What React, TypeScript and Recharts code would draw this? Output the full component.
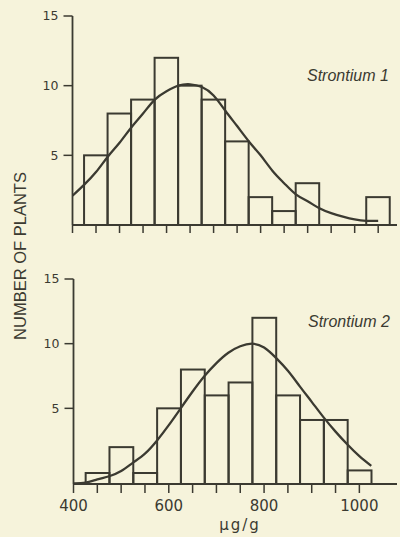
import React from "react";
import { ComposedChart, Bar, Line, XAxis, YAxis } from "recharts";

const INK = "#3b3a31";
const PAPER = "#f6f3db";

// Strontium 1 (upper panel)
const bins1 = [450, 500, 550, 600, 650, 700, 750, 800, 850, 900, 950, 1000, 1050];
const counts1 = [5, 8, 9, 12, 10, 9, 6, 2, 1, 3, 0, 0, 2];
const curveX1 = [400, 425, 450, 475, 500, 525, 550, 575, 600, 625, 650, 675, 700, 725, 750, 775, 800, 825, 850, 875, 900, 925, 950, 975, 1000, 1025, 1050];
const curve1 = [2.1, 2.9, 3.8, 4.9, 5.9, 7.0, 8.0, 9.0, 9.6, 10.0, 10.1, 9.9, 9.3, 8.2, 7.1, 6.0, 5.0, 3.9, 3.0, 2.2, 1.7, 1.2, 0.85, 0.6, 0.4, 0.3, 0.3];

// Strontium 2 (lower panel), read against the printed tick labels
const bins2 = [450, 500, 550, 600, 650, 700, 750, 800, 850, 900, 950, 1000];
const counts2 = [0, 2, 0, 5, 8, 6, 7, 12, 6, 4.1, 4.1, 0.2];
const curveX2 = [400, 425, 450, 475, 500, 525, 550, 575, 600, 625, 650, 675, 700, 725, 750, 775, 800, 825, 850, 875, 900, 925, 950, 975, 1000, 1025];
const curve2 = [-0.8, -0.75, -0.5, -0.25, 0.15, 0.8, 1.5, 2.5, 3.7, 5.0, 6.3, 7.5, 8.5, 9.3, 9.8, 10.0, 9.7, 8.9, 7.9, 6.7, 5.5, 4.3, 3.2, 2.2, 1.3, 0.55];
const base2 = -0.85;

const yTicks = [5, 10, 15];
const xTicks1 = [400, 450, 500, 550, 600, 650, 700, 750, 800, 850, 900, 950, 1000, 1050];
const xTicks2 = [400, 450, 500, 550, 600, 650, 700, 750, 800, 850, 900, 950, 1000];

type Row = { x: number; curve?: number; count?: number };

function buildRows(cx: number[], cv: number[], bins: number[], counts: number[]): Row[] {
  const map = new Map<number, Row>();
  cx.forEach((x, i) => map.set(x, { x, curve: cv[i] }));
  bins.forEach((x, i) => {
    const r = map.get(x) ?? { x };
    r.count = counts[i];
    map.set(x, r);
  });
  return [...map.values()].sort((a, b) => a.x - b.x);
}

const rows1 = buildRows(curveX1, curve1, bins1, counts1);
const rows2 = buildRows(curveX2, curve2, bins2, counts2);

// open histogram box, fixed bin width in px
const outline = (barW: number) => (props: any) => {
  const { x, y, width, height, payload } = props;
  if (!payload || payload.count == null || !height) return <g />;
  const mid = x + width / 2;
  const top = Math.min(y, y + height);
  return (
    <rect x={mid - barW / 2} y={top} width={barW} height={Math.abs(height)}
      fill="none" stroke={INK} strokeWidth={2} />
  );
};

const axisLine = { stroke: INK, strokeWidth: 1.8 };
const tickLine = { stroke: INK, strokeWidth: 1.5 };
const yTickStyle = { fill: INK, fontSize: 12.5, fontFamily: "DejaVu Sans" };
const xTickStyle = { fill: INK, fontSize: 15, fontFamily: "DejaVu Sans" };

export default function App() {
  return (
    <div style={{ position: "fixed", left: 0, top: 0, width: 400, height: 537, background: PAPER }}>
      <div style={{ position: "absolute", left: 0, top: 0 }}>
        <ComposedChart width={400} height={240} data={rows1}
          margin={{ top: 16, right: 3, bottom: 0, left: 0 }}>
          <XAxis dataKey="x" type="number" domain={[400, 1090]} allowDataOverflow
            ticks={xTicks1} tickFormatter={() => ""} tickSize={8} height={15}
            axisLine={axisLine} tickLine={tickLine} />
          <YAxis type="number" domain={[0, 15]} allowDataOverflow ticks={yTicks}
            width={72.5} tickSize={9} tickMargin={5} tick={yTickStyle}
            axisLine={axisLine} tickLine={tickLine} />
          <Bar dataKey="count" shape={outline(23.5)} isAnimationActive={false} />
          <Line dataKey="curve" type="natural" stroke={INK} strokeWidth={2.3}
            dot={false} isAnimationActive={false} />
        </ComposedChart>
      </div>
      <div style={{ position: "absolute", left: 0, top: 263 }}>
        <ComposedChart width={400} height={274} data={rows2}
          margin={{ top: 16, right: 3, bottom: 0, left: 0 }}>
          <XAxis dataKey="x" type="number" domain={[400, 1079]} allowDataOverflow
            ticks={xTicks2} tickSize={9} tickMargin={7} height={53}
            tick={xTickStyle}
            tickFormatter={(v: number) => (v % 200 === 0 ? String(v) : "")}
            axisLine={axisLine} tickLine={tickLine} />
          <YAxis type="number" domain={[base2, 15]} allowDataOverflow ticks={yTicks}
            width={73.5} tickSize={9} tickMargin={5} tick={yTickStyle}
            axisLine={axisLine} tickLine={tickLine} />
          <Bar dataKey={(d: Row) => (d.count == null ? null : [base2, d.count])}
            shape={outline(23.8)} isAnimationActive={false} />
          <Line dataKey="curve" type="natural" stroke={INK} strokeWidth={2.3}
            dot={false} isAnimationActive={false} />
        </ComposedChart>
      </div>
      <svg width={400} height={537} style={{ position: "absolute", left: 0, top: 0, pointerEvents: "none" }}>
        <text x={307} y={80.7} fill={INK} fontSize={16} fontStyle="italic"
          fontFamily="Liberation Sans">Strontium 1</text>
        <text x={308} y={326.7} fill={INK} fontSize={16} fontStyle="italic"
          fontFamily="Liberation Sans">Strontium 2</text>
        <text x={240} y={530} fill={INK} fontSize={15} textAnchor="middle"
          letterSpacing={2} fontFamily="DejaVu Sans">μg/g</text>
        <text x={19.5} y={256} fill={INK} fontSize={16.5} textAnchor="middle"
          dominantBaseline="central" fontFamily="Liberation Sans"
          transform="rotate(-90, 19.5, 256)">NUMBER OF PLANTS</text>
      </svg>
    </div>
  );
}
